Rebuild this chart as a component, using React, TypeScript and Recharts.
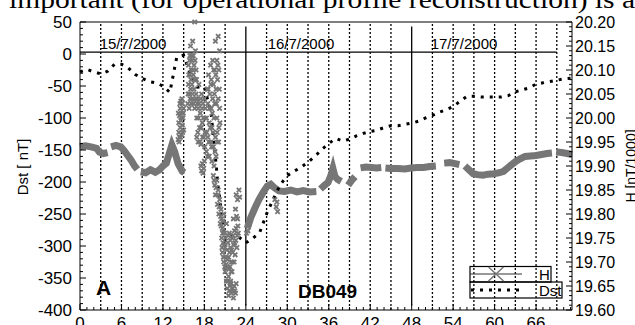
import React from 'react';
import { ComposedChart, Line, Scatter, XAxis, YAxis, ReferenceLine } from 'recharts';

const hourLabels = [0, 6, 12, 18, 24, 30, 36, 42, 48, 54, 60, 66];
const dstLabels = [-400, -350, -300, -250, -200, -150, -100, -50, 0, 50];
const gridHours = [3, 6, 9, 12, 15, 18, 21, 27, 30, 33, 36, 39, 42, 45, 51, 54, 57, 60, 63, 66, 69];
const dayLines = [24, 48];
const dayDates = ['15/7/2000', '16/7/2000', '17/7/2000'];
const dayDateX = [133, 301, 464];

// hourly Dst [nT], hour = index
const dstValues = [
  -28, -24, -28, -31, -27, -16, -16, -22, -32, -38, -43, -45, -50, -60, -5, -2,
  -33, -52, -51, -95, -207, -292, -283, -286, -295, -288, -279, -250, -226, -204,
  -190, -183, -177, -169, -160, -149, -140, -132, -136, -133, -128, -124, -121,
  -119, -115, -112, -112, -110, -108, -105, -100, -96, -91, -87, -82, -74, -66,
  -66, -67, -67, -67, -67, -65, -59, -56, -53, -47, -45, -43, -41, -39, -38,
];

// H band [hour, nT/1000], null = gap
const hBand: [number, number | null][] = [
  [0, 19.94], [0.8, 19.942], [1.6, 19.94], [2.4, 19.937], [2.8, 19.929], [3.4, 19.926], [4.0, 19.928],
  [4.25, null], [4.5, 19.94], [5.2, 19.943], [5.9, 19.94], [6.4, 19.932], [6.9, 19.922], [7.4, 19.912],
  [7.9, 19.9], [8.3, 19.893], [8.45, null], [8.8, 19.888], [9.5, 19.886], [10.2, 19.892], [10.9, 19.887],
  [11.5, 19.892], [12.0, 19.9], [12.5, 19.906], [12.9, 19.925], [13.3, 19.944], [13.7, 19.93],
  [14.2, 19.905], [14.8, 19.889], [15.1, 19.886], [15.2, null],
  [24.2, 19.77], [24.7, 19.792], [25.3, 19.812], [25.9, 19.83], [26.5, 19.845], [27.1, 19.858],
  [27.6, 19.862], [28.1, 19.855], [28.8, 19.848], [29.6, 19.847], [30.5, 19.85], [31.4, 19.846],
  [32.3, 19.849], [33.2, 19.846], [34.2, 19.847], [34.5, null], [34.8, 19.852], [35.4, 19.86],
  [35.9, 19.866], [36.3, 19.88], [36.6, 19.895], [36.9, 19.878], [37.3, 19.872], [37.8, 19.868],
  [38.2, null], [38.8, 19.86], [39.3, 19.87], [39.8, 19.878], [40.2, null], [40.6, 19.896],
  [41.4, 19.898], [42.2, 19.897], [42.9, 19.896], [43.6, 19.897], [43.9, null], [44.2, 19.896],
  [45.0, 19.895], [46.0, 19.895], [47.0, 19.894], [47.9, 19.896], [48.8, 19.897], [49.7, 19.897],
  [50.6, 19.899], [51.5, 19.9], [51.9, null], [52.7, 19.906], [53.5, 19.907], [54.3, 19.905],
  [54.9, 19.903], [55.3, null], [55.7, 19.9], [56.3, 19.892], [56.9, 19.884], [57.5, 19.882],
  [58.3, 19.881], [59.1, 19.883], [59.9, 19.884], [60.7, 19.886], [61.3, 19.889], [61.8, 19.895],
  [62.4, 19.902], [63.0, 19.909], [63.7, 19.915], [64.4, 19.92], [65.2, 19.921], [66.0, 19.922],
  [66.8, 19.924], [67.6, 19.926], [68.3, 19.927], [68.6, null], [68.9, 19.929], [69.7, 19.928],
  [70.5, 19.926], [71.2, 19.924],
];

// scattered H samples during the storm
const hStorm: [number, number][] = [
  [14.2, 19.955], [14.3, 19.97], [14.3, 19.99], [14.4, 20.005], [14.4, 19.96], [14.5, 20.02],
  [14.5, 19.98], [14.6, 20.035], [14.6, 19.995], [14.7, 20.01], [14.7, 19.965], [14.8, 20.03],
  [14.8, 19.985], [14.9, 20.0], [15.0, 20.02], [15.0, 19.975],
  [14.25, 20.01], [14.35, 19.95], [14.45, 20.03], [14.55, 19.96], [14.65, 20.0], [14.75, 20.04],
  [14.85, 19.97], [14.95, 20.01],
  [15.6, 20.03], [15.7, 20.07], [15.7, 20.11], [15.8, 20.02], [15.8, 20.05], [15.9, 20.09],
  [15.9, 20.13], [16.0, 20.06], [16.0, 20.15], [16.1, 20.03], [16.1, 20.1], [16.2, 20.12],
  [16.2, 20.07], [16.3, 20.16], [16.3, 20.04], [16.4, 20.09], [16.4, 20.13], [16.5, 20.06],
  [16.5, 20.11], [16.6, 20.2], [16.6, 20.02], [16.7, 20.08], [16.7, 20.14], [16.8, 20.05], [16.8, 20.1],
  [15.65, 20.05], [15.75, 20.09], [15.85, 20.12], [15.95, 20.04], [16.05, 20.08], [16.15, 20.13],
  [16.25, 20.05], [16.35, 20.1], [16.45, 20.03], [16.55, 20.08], [16.65, 20.12], [16.75, 20.04],
  [16.85, 20.08],
  [16.9, 19.96], [16.9, 20.0], [17.0, 20.04], [17.1, 19.95], [17.1, 20.02], [17.2, 20.07],
  [17.3, 19.98], [17.4, 20.01], [17.5, 19.945], [17.6, 20.05], [17.7, 19.99], [17.8, 20.03],
  [17.9, 19.96], [18.0, 20.0], [18.1, 19.97],
  [16.95, 20.03], [17.05, 19.97], [17.15, 20.0], [17.25, 20.03], [17.35, 19.95], [17.45, 20.04],
  [17.55, 19.98], [17.65, 20.02], [17.75, 19.96], [17.85, 20.0], [17.95, 20.04], [18.05, 19.94],
  [18.15, 20.02],
  [17.5, 19.9], [17.6, 19.89], [17.7, 19.905], [17.8, 19.885], [17.9, 19.895], [18.0, 19.91],
  [18.3, 19.93], [18.3, 20.0], [18.4, 20.06], [18.5, 19.96], [18.5, 20.03], [18.6, 20.09],
  [18.7, 19.92], [18.7, 19.99], [18.8, 20.05], [18.9, 20.11], [18.9, 19.95], [19.0, 20.02],
  [19.0, 20.08], [19.1, 19.91], [19.1, 19.98], [19.2, 20.04], [19.2, 20.12], [19.3, 19.94],
  [19.3, 20.07], [19.4, 20.0], [19.4, 19.9], [19.5, 20.1], [19.5, 20.03], [19.6, 19.96],
  [19.6, 20.16], [19.7, 20.06], [19.7, 19.92], [19.8, 20.0], [19.8, 20.12], [19.9, 19.95],
  [19.9, 20.08], [20.0, 20.04], [20.0, 20.17], [20.1, 19.98], [20.1, 20.1], [20.2, 20.02], [20.2, 20.14],
  [18.35, 19.97], [18.45, 19.92], [18.55, 20.06], [18.65, 19.95], [18.75, 20.02], [18.85, 19.98],
  [18.95, 20.07], [19.05, 19.94], [19.15, 20.01], [19.25, 19.97], [19.35, 20.1], [19.45, 20.05],
  [19.55, 19.93], [19.65, 20.09], [19.75, 20.03], [19.85, 19.97], [19.95, 20.11], [20.05, 19.95],
  [20.15, 20.06], [20.25, 19.99],
  [19.3, 19.88], [19.5, 19.86], [19.6, 19.84], [19.8, 19.87], [19.9, 19.82], [20.0, 19.85],
  [20.1, 19.8], [20.2, 19.83], [20.3, 19.78], [20.4, 19.81], [20.5, 19.79], [20.6, 19.77], [20.8, 19.8],
  [19.4, 19.87], [19.7, 19.855], [19.95, 19.84], [20.15, 19.815], [20.35, 19.795], [20.45, 19.775],
  [20.7, 19.785],
  [20.5, 19.75], [20.6, 19.72], [20.7, 19.74], [20.8, 19.7], [20.9, 19.76], [21.0, 19.68],
  [21.0, 19.73], [21.1, 19.71], [21.2, 19.78], [21.2, 19.66], [21.3, 19.69], [21.4, 19.74],
  [21.5, 19.67], [21.5, 19.71], [21.6, 19.76], [21.7, 19.69], [21.8, 19.73], [21.8, 19.66],
  [21.9, 19.7], [22.0, 19.75], [22.0, 19.68], [22.1, 19.72], [22.2, 19.79], [22.3, 19.7],
  [22.4, 19.74], [22.5, 19.81], [22.6, 19.77], [22.7, 19.73], [22.8, 19.79], [22.9, 19.76],
  [20.55, 19.73], [20.65, 19.76], [20.75, 19.71], [20.85, 19.735], [20.95, 19.69], [21.05, 19.75],
  [21.15, 19.695], [21.25, 19.725], [21.35, 19.705], [21.45, 19.755], [21.55, 19.685], [21.65, 19.72],
  [21.75, 19.745], [21.85, 19.68], [21.95, 19.725], [22.05, 19.7], [22.15, 19.755], [22.25, 19.735],
  [22.35, 19.765], [22.45, 19.715], [22.55, 19.745], [22.65, 19.795], [22.75, 19.755], [22.85, 19.775],
  [21.3, 19.645], [21.5, 19.63], [21.7, 19.65], [21.9, 19.635], [22.1, 19.645], [22.2, 19.625],
  [22.4, 19.64], [22.6, 19.655],
  [21.4, 19.66], [21.6, 19.64], [21.8, 19.655], [22.0, 19.64], [22.3, 19.65], [22.5, 19.635],
  [22.6, 19.84], [22.8, 19.83], [23.0, 19.85], [23.1, 19.835],
  [24.1, 19.76], [24.3, 19.765], [24.5, 19.78],
  [28.2, 19.83], [28.4, 19.815], [28.6, 19.805], [28.5, 19.825],
];

const dstData = dstValues.map((v, i) => ({ x: i, dst: v }));
const bandData = hBand.map(([x, h]) => ({ x, h }));
const stormData = hStorm.map(([x, h]) => ({ x, h }));

const hourMinor = Array.from({ length: 72 }, (_, i) => i);
const dstMinor = Array.from({ length: 46 }, (_, i) => -400 + i * 10);
const hMinor = Array.from({ length: 61 }, (_, i) => (1960 + i) / 100);

const FONT = '"Liberation Sans", Arial, sans-serif';
const GRAY = '#767676';

function BottomTick({ x, y, payload }: any) {
  const major = hourLabels.includes(payload.value);
  return (
    <g>
      <line x1={x} y1={y} x2={x} y2={y - (major ? 6 : 3)} stroke="#000" />
      {major && (
        <text x={x} y={y + 7} dy="0.71em" textAnchor="middle" fontSize={17} fontFamily={FONT} fill="#000">
          {payload.value}
        </text>
      )}
    </g>
  );
}

function TopTick({ x, y, payload }: any) {
  const major = hourLabels.includes(payload.value);
  return <line x1={x} y1={y} x2={x} y2={y + (major ? 6 : 3)} stroke="#000" />;
}

function LeftTick({ x, y, payload }: any) {
  const major = dstLabels.includes(payload.value);
  return (
    <g>
      <line x1={x} y1={y} x2={x + (major ? 6 : 3)} y2={y} stroke="#000" />
      {major && (
        <text x={x - 8} y={y} dy="0.35em" textAnchor="end" fontSize={17} fontFamily={FONT} fill="#000">
          {payload.value}
        </text>
      )}
    </g>
  );
}

function RightTick({ x, y, payload }: any) {
  const major = Math.round(payload.value * 100) % 5 === 0;
  return (
    <g>
      <line x1={x} y1={y} x2={x - (major ? 6 : 3)} y2={y} stroke="#000" />
      {major && (
        <text x={x + 3} y={y} dy="0.35em" textAnchor="start" fontSize={16} fontFamily={FONT} fill="#000">
          {payload.value.toFixed(2)}
        </text>
      )}
    </g>
  );
}

const Cross = ({ cx, cy }: any) => (
  <path
    d={`M${cx - 2.2},${cy - 2.2}L${cx + 2.2},${cy + 2.2}M${cx - 2.2},${cy + 2.2}L${cx + 2.2},${cy - 2.2}`}
    stroke={GRAY}
    strokeWidth={1.8}
  />
);

export default function App() {
  return (
    <div style={{ position: 'absolute', left: 0, top: 0, width: 635, height: 325, overflow: 'hidden', background: '#fff' }}>
      <ComposedChart width={635} height={340} margin={{ top: 0, right: 0, bottom: 0, left: 0 }}>
        <XAxis xAxisId="b" dataKey="x" type="number" domain={[0, 71.2]} ticks={hourMinor} interval={0}
          height={30} tickSize={0} tickMargin={0} tick={(p: any) => <BottomTick {...p} />} stroke="#000" />
        <XAxis xAxisId="t" dataKey="x" type="number" orientation="top" domain={[0, 71.2]} ticks={hourMinor}
          interval={0} height={22} tickSize={0} tickMargin={0} tick={(p: any) => <TopTick {...p} />} stroke="#000" />
        <YAxis yAxisId="dst" type="number" domain={[-400, 50]} ticks={dstMinor} interval={0} width={80}
          tickSize={0} tickMargin={0} tick={(p: any) => <LeftTick {...p} />} stroke="#000" />
        <YAxis yAxisId="h" type="number" orientation="right" domain={[19.6, 20.2]} ticks={hMinor} interval={0}
          width={63} tickSize={0} tickMargin={0} tick={(p: any) => <RightTick {...p} />} stroke="#000" />

        {gridHours.map((h) => (
          <ReferenceLine key={h} x={h} xAxisId="b" yAxisId="dst" stroke="#000" strokeWidth={1.3} strokeDasharray="2 2" />
        ))}
        {dayLines.map((h) => (
          <ReferenceLine key={'d' + h} xAxisId="b" yAxisId="dst" stroke="#000" strokeWidth={1.3}
            segment={[{ x: h, y: 43 }, { x: h, y: -393 }]} />
        ))}
        <ReferenceLine xAxisId="b" yAxisId="dst" stroke="#000" strokeWidth={1.3}
          segment={[{ x: 0, y: 3 }, { x: 69, y: 3 }]} />

        <Line data={bandData} dataKey="h" xAxisId="b" yAxisId="h" stroke={GRAY} strokeWidth={7}
          dot={false} connectNulls={false} isAnimationActive={false} />
        <Scatter data={stormData} dataKey="h" xAxisId="b" yAxisId="h" shape={(p: any) => <Cross {...p} />}
          isAnimationActive={false} />
        <Line data={dstData} dataKey="dst" xAxisId="b" yAxisId="dst" stroke="#000" strokeWidth={3}
          strokeDasharray="3 6" dot={false} isAnimationActive={false} />
      </ComposedChart>

      <svg width={635} height={325} style={{ position: 'absolute', left: 0, top: 0, pointerEvents: 'none' }}>
        <text x={9} y={8} fontFamily='"Liberation Serif", serif' fontSize={26} textLength={626}
          lengthAdjust="spacingAndGlyphs">important (for operational profile reconstruction) is a</text>
        {dayDates.map((d, i) => (
          <text key={d} x={dayDateX[i]} y={49} textAnchor="middle" fontFamily={FONT} fontSize={15}>{d}</text>
        ))}
        <text transform="translate(28,167) rotate(-90)" textAnchor="middle" fontFamily={FONT} fontSize={15}>Dst [ nT]</text>
        <text transform="translate(636,166) rotate(-90)" textAnchor="middle" fontFamily={FONT} fontSize={14}>H [nT/1000]</text>
        <text x={96} y={295} fontFamily={FONT} fontWeight="bold" fontSize={21}>A</text>
        <text x={298} y={298} fontFamily={FONT} fontWeight="bold" fontSize={19}>DB049</text>

        <rect x={470} y={266.5} width={81} height={15.5} fill="none" stroke="#000" strokeWidth={1.2} />
        <rect x={470} y={282} width={92} height={16} fill="none" stroke="#000" strokeWidth={1.2} />
        <line x1={470} y1={274} x2={522} y2={274} stroke="#333" strokeWidth={1.2} />
        <path d="M488.5,267L503.5,281M488.5,281L503.5,267" stroke={GRAY} strokeWidth={1.5} fill="none" />
        <text x={539} y={280} fontFamily={FONT} fontSize={15}>H</text>
        <line x1={471} y1={290} x2={522} y2={290} stroke="#000" strokeWidth={3} strokeDasharray="3 6" />
        <text x={539} y={296} fontFamily={FONT} fontSize={15}>Dst</text>
      </svg>
    </div>
  );
}
